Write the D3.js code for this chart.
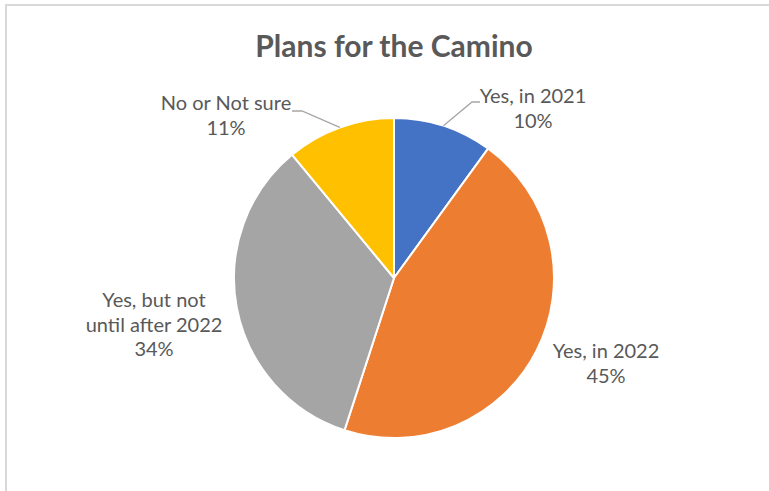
<!DOCTYPE html>
<html><head><meta charset="utf-8">
<script src="https://cdn.jsdelivr.net/npm/d3@7"></script>
<style>body{margin:0;background:#fff;}svg{display:block;}</style>
</head><body>
<svg id="c" width="769" height="491"></svg>
<script>
const title = "Plans for the Camino";
const categories = ["Yes, in 2021", "Yes, in 2022", "Yes, but not until after 2022", "No or Not sure"];
const values = [10, 45, 34, 11];
const colors = ["#4472C4", "#ED7D31", "#A5A5A5", "#FFC000"];
// label text lines (category wrapped as in the chart) and percentage
const labelLines = [["Yes, in 2021"], ["Yes, in 2022"], ["Yes, but not", "until after 2022"], ["No or Not sure"]];

const svg = d3.select("#c");
const W = 769, H = 491;
const cx = 394, cy = 278, R = 160;

// chart border
svg.append("rect").attr("x", 6).attr("y", 5).attr("width", W + 10).attr("height", H + 10)
  .attr("fill", "#fff").attr("stroke", "#d9d9d9").attr("stroke-width", 2);

svg.append("text").attr("x", cx).attr("y", 57).attr("text-anchor", "middle")
  .attr("font-family", "Lato, 'Open Sans', sans-serif").attr("font-weight", "bold")
  .attr("font-size", 30).attr("fill", "#595959").text(title);

const pie = d3.pie().sort(null).value(d => d)(values);
const arc = d3.arc().innerRadius(0).outerRadius(R);
const g = svg.append("g").attr("transform", `translate(${cx},${cy})`);
g.selectAll("path").data(pie).join("path")
  .attr("d", arc).attr("fill", (d, i) => colors[i])
  .attr("stroke", "#fff").attr("stroke-width", 2).attr("stroke-linejoin", "round");

// label layout: center x offset and first baseline (relative to pie center)
const labelPos = [
  {dx: 139, y: -175},
  {dx: 212, y: 80},
  {dx: -240, y: 29},
  {dx: -168, y: -168}
];
const lineH = 24.5;
const lg = g.append("g").attr("font-family", "Lato, 'Open Sans', sans-serif")
  .attr("font-size", 20).attr("fill", "#595959").attr("text-anchor", "middle");
pie.forEach((d, i) => {
  const p = labelPos[i];
  const lines = labelLines[i].concat([values[i] + "%"]);
  const t = lg.append("text").attr("x", p.dx).attr("y", p.y);
  lines.forEach((s, k) => t.append("tspan").attr("x", p.dx).attr("dy", k === 0 ? 0 : lineH).text(s));
});

// leader lines for the small slices
const leader = d3.line();
function edgePoint(d) {
  const a = (d.startAngle + d.endAngle) / 2;
  return [R * Math.sin(a), -R * Math.cos(a)];
}
const e0 = edgePoint(pie[0]);
g.append("path").attr("d", leader([e0, [78, -176], [86, -176]]))
  .attr("fill", "none").attr("stroke", "#a6a6a6").attr("stroke-width", 1.3);
const e3 = edgePoint(pie[3]);
g.append("path").attr("d", leader([e3, [-92, -167], [-102, -167]]))
  .attr("fill", "none").attr("stroke", "#a6a6a6").attr("stroke-width", 1.3);
</script>
</body></html>
